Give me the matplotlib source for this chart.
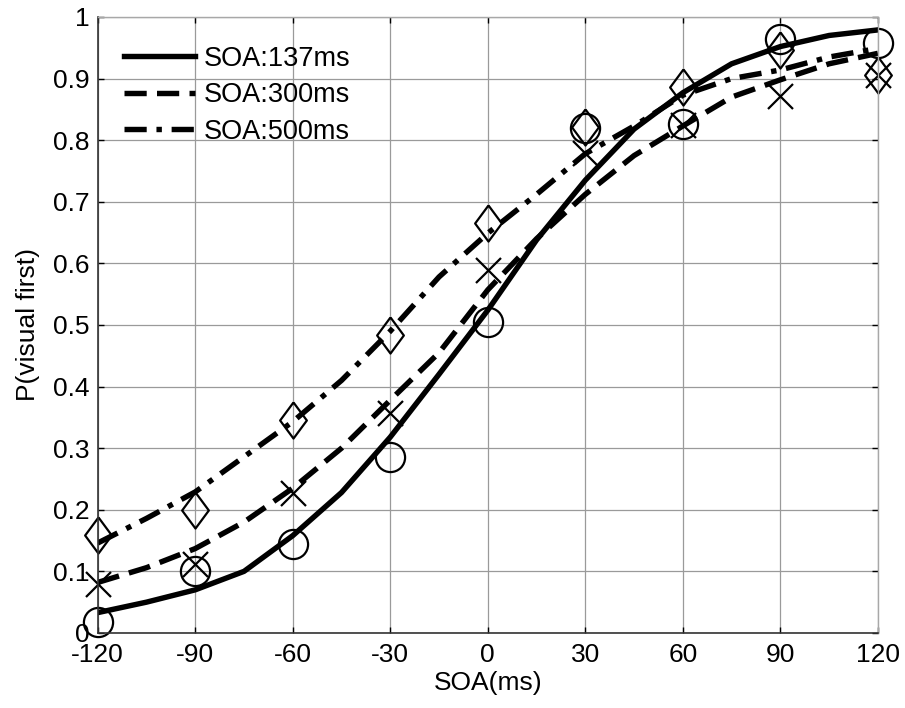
import numpy as np
import matplotlib
matplotlib.use("Agg")
import matplotlib.pyplot as plt

plt.rcParams['font.family'] = ['Liberation Sans', 'DejaVu Sans']

# measured points
soa = [-120, -90, -60, -30, 0, 30, 60, 90, 120]
p137 = [0.018, 0.101, 0.144, 0.286, 0.505, 0.819, 0.826, 0.965, 0.957]
p300 = [0.080, 0.112, 0.227, 0.357, 0.589, 0.780, 0.825, 0.872, 0.906]
p500 = [0.159, 0.200, 0.346, 0.484, 0.665, 0.822, 0.887, 0.946, 0.906]

# fitted curves
fit_x = [-120, -105, -90, -75, -60, -45, -30, -15, 0, 15, 30, 45, 60, 75, 90, 105, 120]
fit137 = [0.033, 0.05, 0.07, 0.10, 0.158, 0.228, 0.318, 0.42, 0.524, 0.638, 0.735, 0.818, 0.877, 0.924, 0.952, 0.97, 0.979]
fit300 = [0.082, 0.106, 0.137, 0.18, 0.235, 0.30, 0.378, 0.455, 0.557, 0.64, 0.712, 0.775, 0.823, 0.87, 0.898, 0.924, 0.941]
fit500 = [0.146, 0.186, 0.229, 0.286, 0.343, 0.41, 0.49, 0.578, 0.649, 0.712, 0.778, 0.823, 0.873, 0.90, 0.914, 0.935, 0.949]

labels = ["SOA:137ms", "SOA:300ms", "SOA:500ms"]

fig = plt.figure(figsize=(9.05, 7.08), dpi=100)
ax = fig.add_axes([0.108, 0.106, 0.862, 0.870])

lw = 3.9
ax.plot(fit_x, fit137, color="black", lw=lw, linestyle="-", label=labels[0])
ax.plot(fit_x, fit300, color="black", lw=lw, linestyle=(0, (4.1, 1.9)), label=labels[1])
ax.plot(fit_x, fit500, color="black", lw=lw, linestyle=(0, (4.1, 1.8, 1.0, 1.8)), label=labels[2])

diamond = [(0, 1), (0.74, 0), (0, -1), (-0.74, 0), (0, 1)]
mk = dict(linestyle="none", mfc="none", mec="black", mew=1.6, clip_on=False)
ax.plot(soa, p137, marker="o", ms=21, **mk)
ax.plot(soa, p300, marker="x", ms=18, **mk)
ax.plot(soa, p500, marker=diamond, ms=26, **mk)

ax.set_xlim(-120, 120)
ax.set_ylim(0, 1)
ax.set_xticks(soa)
ax.set_xticklabels([str(v) for v in soa])
yt = np.round(np.arange(0, 1.01, 0.1), 1)
ax.set_yticks(yt)
ax.set_yticklabels([f"{v:g}" for v in yt])

ax.grid(True, color="#9a9a9a", linewidth=0.9)
ax.set_axisbelow(True)
ax.tick_params(direction="in", length=4, width=1, top=True, right=True,
               labelsize=19, colors="black")
ax.tick_params(axis="y", pad=6)
ax.tick_params(axis="x", pad=7)
for s in ["top", "right"]:
    ax.spines[s].set_color("#a8a8a8")
    ax.spines[s].set_linewidth(1.0)
for s in ["left", "bottom"]:
    ax.spines[s].set_color("#333333")
    ax.spines[s].set_linewidth(1.2)

ax.set_xlabel("SOA(ms)", fontsize=19, labelpad=3)
ax.set_ylabel("P(visual first)", fontsize=19, labelpad=9)

ax.legend(loc="upper left", frameon=False, fontsize=19.5, handlelength=2.6,
          handletextpad=0.35, labelspacing=0.38, borderaxespad=0, borderpad=0,
          bbox_to_anchor=(0.034, 0.953))

fig.savefig("out.png", dpi=100)
